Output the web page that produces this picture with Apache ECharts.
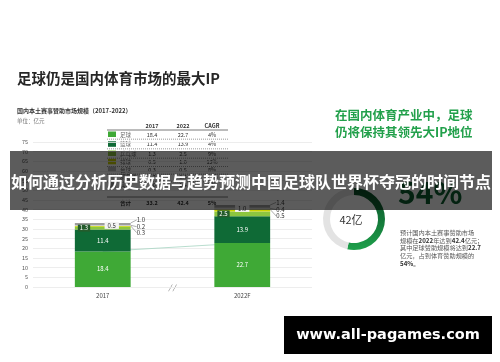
<!DOCTYPE html>
<html><head><meta charset="utf-8">
<script src="https://cdn.jsdelivr.net/npm/echarts@6/dist/echarts.min.js"></script>
<style>html,body{margin:0;padding:0;background:#fff}#c{width:500px;height:362px}</style>
</head><body><div id="c"></div>
<script>
// ---- data ----
const categories = ['2017', '2022F'];
const seriesNames = ['足球', '篮球', '乒乓球', '排球', '台球', '羽毛球', '其他'];
const football = [18.4, 22.7];
const basketball = [11.4, 13.9];
const pingpong = [1.3, 2.5];
const volleyball = [0.5, 1.0];
const billiards = [0.3, 0.5];
const badminton = [0.2, 0.4];
const others = [1.0, 1.4];
const totals = [33.2, 42.4];
const cagr = ['4%', '4%', '9%', '13%', '8%', '15%', '7%'];
const totalCagr = '5%';
const yMin = 0, yMax = 75, yStep = 5;

const allSeries = [football, basketball, pingpong, volleyball, billiards, badminton, others];
const colors = ['#3fa936', '#0f6a36', '#8dc63f', '#c9d300', '#b9b9b9', '#d6d6d6', '#9d9d9d'];
const FONT = '"Noto Sans CJK SC", "Noto Sans", sans-serif';

const chart = echarts.init(document.getElementById('c'), null, {renderer: 'canvas'});

const fmt1 = p => Number(p.value).toFixed(1);
const smallLbl = {fontSize: 6, fontFamily: FONT, formatter: fmt1};
const barLabels = [
  {show: true, position: 'inside', color: '#fff', ...smallLbl},
  {show: true, position: 'inside', color: '#fff', ...smallLbl},
  {show: true, position: 'insideLeft', distance: 3, color: '#fff', backgroundColor: '#245c2c', padding: [1, 2, 0, 2], ...smallLbl},
  {show: true, position: 'inside', color: '#333', backgroundColor: '#f4f4f4', padding: [1, 3, 0, 3], ...smallLbl},
  {show: true, position: 'right', distance: 3, color: '#333', ...smallLbl},
  {show: true, position: 'right', distance: 3, color: '#333', ...smallLbl},
  {show: true, position: 'right', distance: 3, color: '#333', ...smallLbl}
];
const layouts = [null, null, null, null, {dx: 3, dy: 7}, {dx: 3, dy: 1.5}, {dx: 3, dy: -4}];
const volleyOffsets = [[9, -1], [0, -2]];

const barSeries = allSeries.map((vals, i) => ({
  name: seriesNames[i],
  type: 'bar',
  stack: 'total',
  barWidth: '40%',
  z: 3,
  itemStyle: {color: colors[i]},
  label: barLabels[i],
  labelLine: layouts[i] ? {show: true, length2: 0, lineStyle: {color: '#777', width: 0.6}} : undefined,
  labelLayout: layouts[i] || undefined,
  data: vals.map((v, j) => i === 3 ? {value: v, label: {offset: volleyOffsets[j]}} : v)
}));

// table rows
const rowYs = [134.5, 144.3, 153.5, 161.8, 169.5, 177.3, 185.1];
const tblX = {sw: 108, name: 120, y1: 152, y2: 183, cg: 212};
const tableEls = [];
tableEls.push({type: 'text', style: {text: categories[0], x: tblX.y1, y: 126, align: 'center', verticalAlign: 'middle', font: 'bold 5.5px ' + FONT, fill: '#333'}});
tableEls.push({type: 'text', style: {text: '2022', x: tblX.y2, y: 126, align: 'center', verticalAlign: 'middle', font: 'bold 5.5px ' + FONT, fill: '#333'}});
tableEls.push({type: 'text', style: {text: 'CAGR', x: tblX.cg, y: 126, align: 'center', verticalAlign: 'middle', font: 'bold 5.5px ' + FONT, fill: '#333'}});
tableEls.push({type: 'line', shape: {x1: 107, y1: 130, x2: 228, y2: 130}, style: {stroke: '#555', lineWidth: 0.8}});
seriesNames.forEach((n, i) => {
  const y = rowYs[i];
  tableEls.push({type: 'rect', shape: {x: tblX.sw, y: y - 3, width: 8, height: 5.5}, style: {fill: colors[i]}});
  tableEls.push({type: 'text', style: {text: n, x: tblX.name, y: y, verticalAlign: 'middle', font: '5.5px ' + FONT, fill: '#666'}});
  tableEls.push({type: 'text', style: {text: allSeries[i][0].toFixed(1), x: tblX.y1, y: y, align: 'center', verticalAlign: 'middle', font: '5.5px ' + FONT, fill: '#333'}});
  tableEls.push({type: 'text', style: {text: allSeries[i][1].toFixed(1), x: tblX.y2, y: y, align: 'center', verticalAlign: 'middle', font: '5.5px ' + FONT, fill: '#333'}});
  tableEls.push({type: 'text', style: {text: cagr[i], x: tblX.cg, y: y, align: 'center', verticalAlign: 'middle', font: '5.5px ' + FONT, fill: '#333'}});
  if (i < seriesNames.length - 1) {
    tableEls.push({type: 'line', shape: {x1: 107, y1: y + 4.6, x2: 228, y2: y + 4.6}, style: {stroke: '#555', lineWidth: 0.6, lineDash: [1, 1]}});
  }
});
tableEls.push({type: 'line', shape: {x1: 107, y1: 197, x2: 228, y2: 197}, style: {stroke: '#555', lineWidth: 0.8}});
tableEls.push({type: 'text', style: {text: '合计', x: tblX.name, y: 202.5, verticalAlign: 'middle', font: 'bold 5.5px ' + FONT, fill: '#333'}});
tableEls.push({type: 'text', style: {text: totals[0].toFixed(1), x: tblX.y1, y: 202.5, align: 'center', verticalAlign: 'middle', font: 'bold 5.5px ' + FONT, fill: '#333'}});
tableEls.push({type: 'text', style: {text: totals[1].toFixed(1), x: tblX.y2, y: 202.5, align: 'center', verticalAlign: 'middle', font: 'bold 5.5px ' + FONT, fill: '#333'}});
tableEls.push({type: 'text', style: {text: totalCagr, x: tblX.cg, y: 202.5, align: 'center', verticalAlign: 'middle', font: 'bold 5.5px ' + FONT, fill: '#333'}});

const share = Math.round(football[1] / totals[1] * 100);

const option = {
  backgroundColor: '#fff',
  animation: false,
  grid: {left: 33, right: 188, top: 142, bottom: 75, containLabel: false},
  xAxis: {
    type: 'category', data: categories,
    axisLine: {show: false}, axisTick: {show: false},
    axisLabel: {color: '#444', fontSize: 6, fontFamily: FONT, margin: 6}
  },
  yAxis: {
    type: 'value', min: yMin, max: yMax, interval: yStep,
    axisLine: {show: false}, axisTick: {show: false},
    axisLabel: {color: '#555', fontSize: 5.5, fontFamily: FONT, margin: 5},
    splitLine: {lineStyle: {color: '#e8e8e8', width: 0.8}}
  },
  series: [
    {
      type: 'line', data: football, z: 1, symbol: 'none', silent: true,
      lineStyle: {color: '#a6d4c2', width: 0.8}
    },
    ...barSeries,
    {
      type: 'line', data: totals, z: 5, symbol: 'none', silent: true,
      lineStyle: {opacity: 0},
      label: {show: true, position: 'top', distance: 2, color: '#333', fontSize: 6, fontWeight: 'bold', fontFamily: FONT, formatter: fmt1}
    },
    {
      type: 'pie', center: [354, 219], radius: [24, 31], startAngle: 90, clockwise: true,
      silent: true, label: {show: false}, labelLine: {show: false},
      data: [
        {value: football[1], itemStyle: {color: new echarts.graphic.LinearGradient(0, 0, 0, 1, [{offset: 0, color: '#0a4d27'}, {offset: 1, color: '#1ea04b'}])}},
        {value: totals[1] - football[1], itemStyle: {color: '#e3e3e3'}}
      ]
    }
  ],
  graphic: [
    {type: 'text', style: {text: '足球仍是国内体育市场的最大IP', x: 17, y: 78, verticalAlign: 'middle', font: 'bold 14.5px ' + FONT, fill: '#262626'}},
    {type: 'text', style: {text: '国内本土赛事赞助市场规模（2017-2022）', x: 17, y: 111, verticalAlign: 'middle', font: 'bold 6px ' + FONT, fill: '#333'}},
    {type: 'text', style: {text: '单位：亿元', x: 17, y: 121, verticalAlign: 'middle', font: '5.5px ' + FONT, fill: '#777'}},
    ...tableEls,
    {type: 'text', style: {text: '在国内体育产业中，足球', x: 335, y: 115, verticalAlign: 'middle', font: 'bold 12.5px ' + FONT, fill: '#22a04b'}},
    {type: 'text', style: {text: '仍将保持其领先大IP地位', x: 335, y: 132, verticalAlign: 'middle', font: 'bold 12.5px ' + FONT, fill: '#22a04b'}},
    {type: 'text', style: {text: Math.round(totals[1]) + '亿', x: 351, y: 220, align: 'center', verticalAlign: 'middle', font: '11px ' + FONT, fill: '#333'}},
    {type: 'text', style: {text: share + '%', x: 398, y: 193, verticalAlign: 'middle', font: 'bold 30px ' + FONT, fill: '#0d5e2f'}},
    {type: 'text', style: {
      x: 400, y: 229, font: '6.2px ' + FONT, fill: '#555', lineHeight: 7.6,
      text: '预计国内本土赛事赞助市场\n规模在{b|2022}年达到{b|' + totals[1] + '}亿元；\n其中足球赞助规模将达到{b|' + football[1] + '}\n亿元，占到体育赞助规模的\n{b|' + share + '%}。',
      rich: {b: {fontWeight: 'bold', fontSize: 6.2, fontFamily: FONT, fill: '#333', lineHeight: 7.6}}
    }},
    {type: 'text', style: {text: '/ /', x: 172, y: 287, align: 'center', verticalAlign: 'middle', font: 'italic 7px ' + FONT, fill: '#666'}},
    {type: 'rect', z: 100, shape: {x: 10, y: 151, width: 482, height: 59}, style: {fill: 'rgba(0,0,0,0.64)'}},
    {type: 'text', z: 101, style: {text: '如何通过分析历史数据与趋势预测中国足球队世界杯夺冠的时间节点', x: 251, y: 182, align: 'center', verticalAlign: 'middle', font: 'bold 16px ' + FONT, fill: '#fff'}},
    {type: 'rect', z: 100, shape: {x: 284, y: 316, width: 208, height: 38}, style: {fill: '#000'}},
    {type: 'text', z: 101, style: {text: 'www.all-pagames.com', x: 388, y: 335, align: 'center', verticalAlign: 'middle', font: 'bold 14.5px "DejaVu Sans", Verdana, sans-serif', fill: '#fff'}}
  ]
};
chart.setOption(option);
</script>
</body></html>
